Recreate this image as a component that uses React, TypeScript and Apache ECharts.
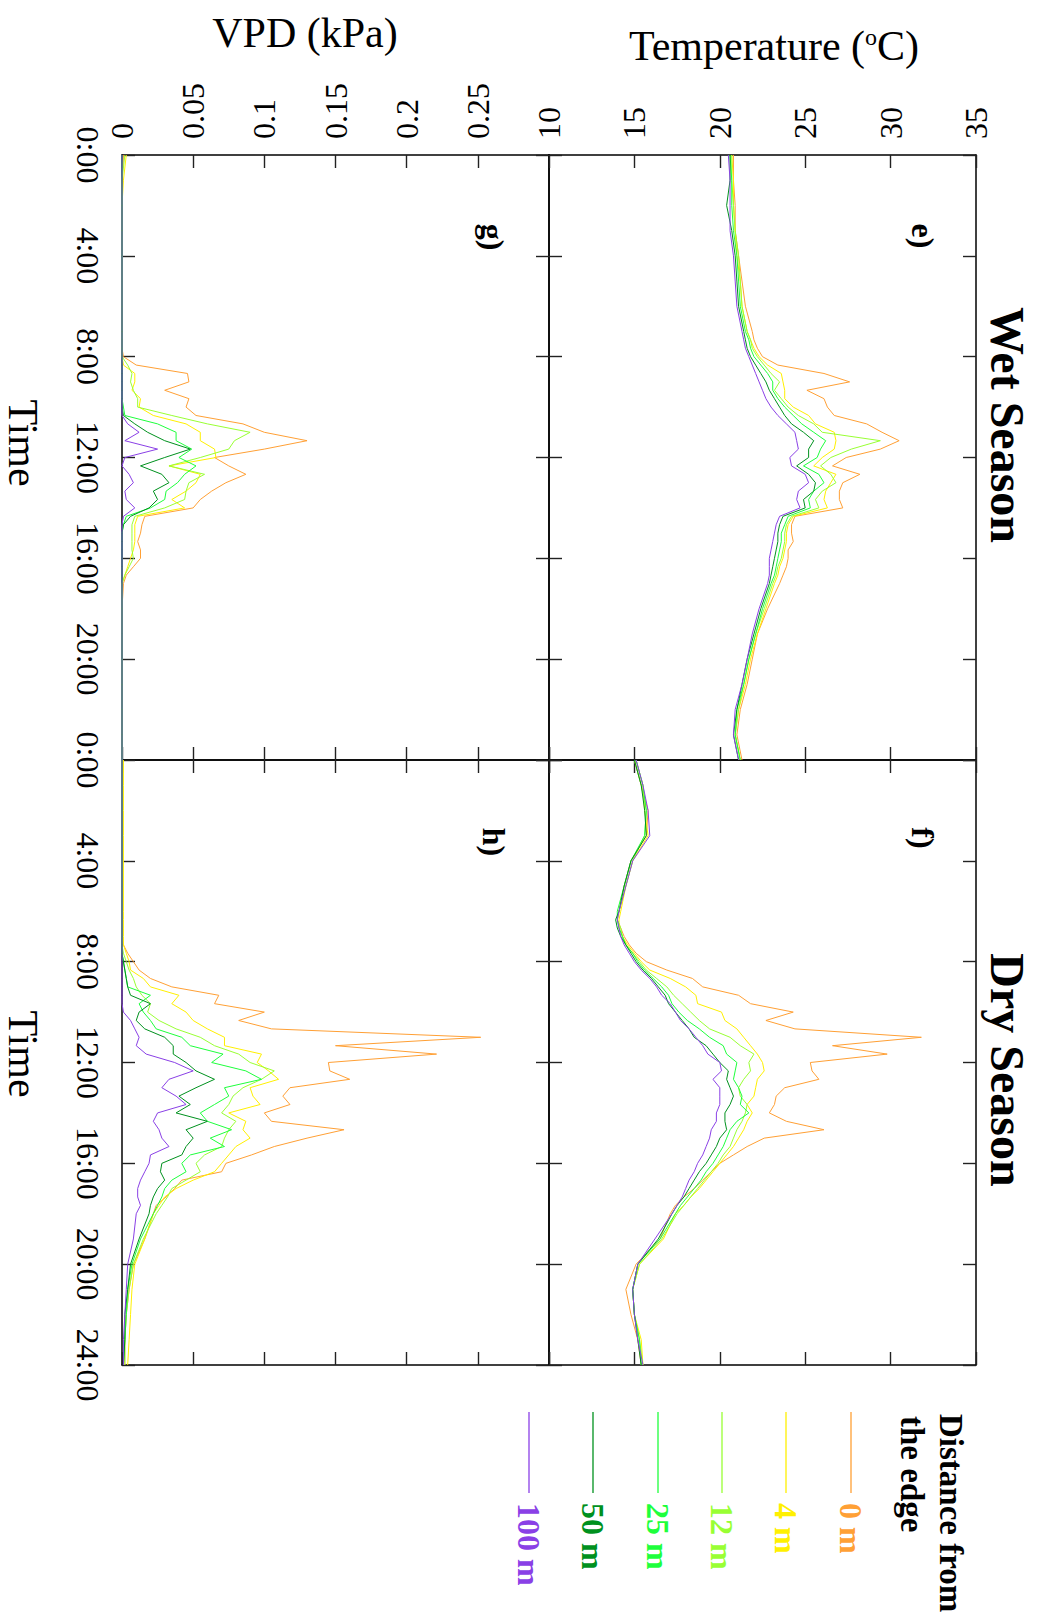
import React, { useEffect, useRef } from "react";
import * as echarts from "echarts";

const SERIF = "'Liberation Serif', 'Times New Roman', serif";

// Distance from the forest edge, legend order
const distanceLabels = ["0 m", "4 m", "12 m", "25 m", "50 m", "100 m"];
const distanceColors = ["#FFA035", "#FFF000", "#99FF33", "#1EFF3C", "#00911E", "#8A40E6"];

// Sampling times (minutes after midnight)
const wetMinutes = [0, 60, 120, 180, 240, 300, 360, 420, 440, 460, 480, 500, 520, 540, 560, 580, 600, 620, 640, 660, 680, 700, 720, 740, 760, 780, 800, 820, 840, 860, 880, 900, 920, 940, 960, 980, 1000, 1020, 1080, 1140, 1200, 1260, 1320, 1380, 1440];
const dryMinutes = [0, 60, 120, 180, 240, 300, 360, 380, 400, 420, 440, 460, 480, 500, 520, 540, 560, 580, 600, 620, 640, 660, 680, 700, 720, 740, 760, 780, 800, 820, 840, 860, 880, 900, 920, 940, 960, 980, 1000, 1020, 1040, 1060, 1080, 1140, 1200, 1260, 1320, 1380, 1440];

// Air temperature (°C), wet season
const tempWet0m = [20.8, 20.8, 20.9, 20.9, 21.1, 21.3, 21.5, 21.9, 22.0, 22.2, 22.5, 23.4, 26.1, 27.6, 25.1, 26.1, 26.3, 26.7, 28.6, 29.5, 30.5, 29.4, 27.4, 26.6, 28.2, 27.2, 27.0, 27.0, 27.2, 24.4, 24.2, 24.2, 24.3, 24.0, 24.0, 23.9, 23.7, 23.5, 22.8, 22.2, 21.9, 21.6, 21.2, 21.0, 21.3];
const tempWet4m = [20.7, 20.8, 20.8, 20.9, 21.0, 21.2, 21.3, 21.6, 21.8, 22.0, 22.3, 22.8, 23.6, 23.7, 23.8, 23.8, 24.3, 25.2, 25.6, 26.7, 26.8, 26.7, 26.0, 25.5, 26.8, 26.5, 26.2, 26.1, 26.3, 24.3, 24.0, 23.9, 23.9, 23.8, 23.7, 23.5, 23.4, 23.2, 22.7, 22.2, 21.8, 21.5, 21.1, 20.9, 21.2];
const tempWet12m = [20.7, 20.7, 20.8, 20.9, 21.1, 21.2, 21.3, 21.6, 21.8, 21.9, 22.2, 22.6, 23.0, 23.5, 23.2, 23.6, 24.0, 24.6, 25.5, 26.0, 29.4, 27.7, 26.5, 25.9, 26.5, 26.8, 26.0, 25.6, 25.8, 24.2, 23.9, 23.8, 23.8, 23.7, 23.6, 23.4, 23.3, 23.1, 22.6, 22.1, 21.7, 21.4, 21.1, 20.9, 21.2];
const tempWet25m = [20.6, 20.7, 20.7, 20.8, 21.0, 21.1, 21.2, 21.5, 21.7, 21.8, 22.0, 22.4, 22.8, 23.1, 23.1, 23.4, 23.8, 24.3, 24.8, 25.5, 26.2, 25.9, 25.7, 24.9, 25.8, 26.1, 25.5, 25.2, 25.3, 24.0, 23.8, 23.6, 23.6, 23.5, 23.4, 23.3, 23.2, 23.0, 22.5, 22.1, 21.7, 21.4, 21.0, 20.9, 21.2];
const tempWet50m = [20.6, 20.6, 20.4, 20.7, 20.9, 21.0, 21.1, 21.4, 21.5, 21.6, 21.8, 22.1, 22.4, 22.7, 22.9, 23.2, 23.5, 23.8, 24.2, 24.9, 25.5, 25.2, 25.2, 24.5, 25.2, 25.6, 25.5, 24.9, 25.0, 23.7, 23.5, 23.4, 23.4, 23.3, 23.2, 23.1, 23.0, 22.9, 22.4, 22.0, 21.6, 21.3, 21.0, 20.8, 21.1];
const tempWet100m = [20.5, 20.6, 20.6, 20.6, 20.8, 20.9, 21.0, 21.3, 21.4, 21.5, 21.7, 21.9, 22.1, 22.3, 22.5, 22.7, 23.0, 23.4, 23.9, 24.4, 24.5, 24.6, 24.1, 24.2, 25.0, 25.2, 24.6, 24.5, 24.7, 23.5, 23.3, 23.2, 23.1, 23.0, 22.9, 22.9, 22.9, 22.8, 22.3, 21.9, 21.6, 21.3, 20.9, 20.8, 21.1];

// Air temperature (°C), dry season
const tempDry0m = [15.0, 15.4, 15.8, 15.7, 14.8, 14.4, 14.1, 14.0, 14.2, 14.4, 14.7, 15.1, 15.7, 16.9, 18.4, 19.0, 21.1, 21.8, 24.3, 22.7, 24.4, 31.8, 26.6, 29.8, 25.3, 25.4, 25.8, 23.8, 23.3, 23.2, 22.9, 23.9, 26.1, 22.6, 21.6, 20.8, 20.0, 19.5, 19.0, 18.5, 17.9, 17.4, 17.1, 16.5, 15.1, 14.5, 14.8, 15.2, 15.4];
const tempDry4m = [15.1, 15.5, 15.6, 15.8, 14.9, 14.5, 14.2, 14.1, 14.1, 14.3, 14.6, 15.0, 15.4, 15.9, 17.1, 18.0, 18.6, 18.7, 20.1, 20.3, 21.0, 21.4, 21.8, 22.2, 22.5, 22.6, 22.2, 22.1, 22.0, 21.6, 21.9, 21.6, 21.4, 21.1, 20.8, 20.4, 20.0, 19.6, 19.2, 18.8, 18.3, 17.9, 17.4, 16.7, 15.3, 14.9, 15.0, 15.4, 15.5];
const tempDry12m = [15.0, 15.4, 15.7, 15.6, 14.9, 14.5, 14.1, 14.0, 14.2, 14.3, 14.5, 14.9, 15.3, 15.7, 16.3, 16.9, 17.3, 17.8, 18.3, 18.8, 19.4, 20.6, 21.2, 22.0, 21.7, 21.8, 21.4, 21.1, 21.2, 21.6, 21.5, 21.3, 21.0, 20.8, 20.6, 20.2, 19.9, 19.5, 19.1, 18.7, 18.3, 17.9, 17.5, 16.6, 15.3, 14.9, 15.0, 15.3, 15.5];
const tempDry25m = [15.1, 15.5, 15.7, 15.6, 14.8, 14.4, 14.0, 14.0, 14.1, 14.3, 14.5, 14.9, 15.2, 15.6, 16.1, 16.6, 17.0, 17.2, 17.6, 18.1, 18.8, 19.4, 20.2, 20.4, 21.0, 20.9, 20.8, 21.1, 21.3, 21.2, 21.7, 21.0, 20.6, 20.4, 20.2, 19.9, 19.6, 19.2, 18.9, 18.5, 18.1, 17.7, 17.4, 16.5, 15.2, 14.9, 15.0, 15.3, 15.4];
const tempDry50m = [15.0, 15.4, 15.6, 15.7, 14.8, 14.4, 14.1, 13.9, 14.0, 14.2, 14.5, 14.8, 15.1, 15.5, 16.0, 16.4, 16.8, 17.0, 17.4, 17.8, 18.2, 18.5, 19.2, 19.6, 20.0, 20.5, 20.4, 20.6, 20.8, 20.6, 20.3, 20.3, 20.4, 20.0, 19.8, 19.5, 19.2, 18.8, 18.5, 18.2, 17.9, 17.5, 17.2, 16.4, 15.2, 14.9, 15.0, 15.2, 15.4];
const tempDry100m = [15.1, 15.5, 15.8, 15.9, 14.9, 14.5, 14.1, 14.0, 14.1, 14.2, 14.4, 14.7, 15.0, 15.4, 15.9, 16.3, 16.6, 17.1, 17.4, 17.7, 18.2, 18.6, 19.0, 19.3, 20.0, 20.1, 19.6, 20.0, 20.0, 20.0, 19.8, 19.8, 19.5, 19.4, 19.2, 19.0, 18.7, 18.5, 18.2, 18.0, 17.8, 17.5, 17.2, 16.2, 15.2, 14.9, 15.0, 15.2, 15.5];

// Vapour pressure deficit (kPa), wet season
const vpdWet0m = [0.001, 0, 0, 0, 0, 0, 0, 0, 0, 0, 0.001, 0.010, 0.046, 0.047, 0.030, 0.047, 0.045, 0.052, 0.085, 0.100, 0.130, 0.100, 0.065, 0.075, 0.087, 0.073, 0.063, 0.055, 0.050, 0.016, 0.014, 0.013, 0.011, 0.013, 0.013, 0.008, 0.003, 0.001, 0, 0, 0, 0, 0, 0, 0];
const vpdWet4m = [0.003, 0.001, 0, 0, 0, 0, 0, 0, 0, 0, 0, 0.001, 0.009, 0.009, 0.007, 0.013, 0.012, 0.022, 0.045, 0.055, 0.055, 0.065, 0.066, 0.033, 0.055, 0.052, 0.045, 0.035, 0.044, 0.011, 0.009, 0.009, 0.009, 0.008, 0.006, 0.004, 0.002, 0, 0, 0, 0, 0, 0, 0, 0];
const vpdWet12m = [0.002, 0, 0, 0, 0, 0, 0, 0, 0, 0, 0, 0.004, 0.007, 0.006, 0.008, 0.011, 0.011, 0.035, 0.060, 0.090, 0.079, 0.075, 0.055, 0.033, 0.058, 0.047, 0.045, 0.044, 0.030, 0.009, 0.007, 0.007, 0.007, 0.007, 0.008, 0.005, 0.002, 0, 0, 0, 0, 0, 0, 0, 0];
const vpdWet25m = [0, 0, 0, 0, 0, 0, 0, 0, 0, 0, 0, 0, 0, 0, 0, 0, 0.001, 0.002, 0.025, 0.038, 0.038, 0.049, 0.040, 0.052, 0.044, 0.039, 0.031, 0.030, 0.020, 0.003, 0.001, 0, 0, 0, 0, 0, 0, 0, 0, 0, 0, 0, 0, 0, 0];
const vpdWet50m = [0, 0, 0, 0, 0, 0, 0, 0, 0, 0, 0, 0, 0, 0, 0, 0, 0, 0.001, 0.009, 0.018, 0.030, 0.048, 0.030, 0.013, 0.028, 0.033, 0.022, 0.025, 0.019, 0.006, 0.001, 0, 0, 0, 0, 0, 0, 0, 0, 0, 0, 0, 0, 0, 0];
const vpdWet100m = [0, 0, 0, 0, 0, 0, 0, 0, 0, 0, 0, 0, 0, 0, 0, 0, 0, 0, 0.004, 0.012, 0.002, 0.025, 0.002, 0, 0.005, 0.008, 0.002, 0.003, 0.009, 0.001, 0, 0, 0, 0, 0, 0, 0, 0, 0, 0, 0, 0, 0, 0, 0];

// Vapour pressure deficit (kPa), dry season
const vpdDry0m = [0, 0, 0, 0, 0, 0, 0, 0, 0, 0, 0.001, 0.004, 0.008, 0.012, 0.020, 0.035, 0.068, 0.065, 0.100, 0.082, 0.105, 0.252, 0.150, 0.221, 0.145, 0.146, 0.160, 0.118, 0.113, 0.118, 0.100, 0.105, 0.156, 0.130, 0.107, 0.091, 0.073, 0.070, 0.042, 0.037, 0.031, 0.024, 0.022, 0.016, 0.008, 0.005, 0.003, 0.002, 0.002];
const vpdDry4m = [0.001, 0.001, 0.001, 0.001, 0.001, 0.001, 0.001, 0.001, 0.001, 0.001, 0.001, 0.003, 0.005, 0.006, 0.015, 0.020, 0.040, 0.035, 0.045, 0.050, 0.060, 0.072, 0.072, 0.098, 0.095, 0.103, 0.110, 0.090, 0.092, 0.097, 0.075, 0.087, 0.085, 0.090, 0.080, 0.075, 0.070, 0.065, 0.050, 0.038, 0.030, 0.026, 0.022, 0.016, 0.009, 0.007, 0.006, 0.005, 0.004];
const vpdDry12m = [0, 0, 0, 0, 0, 0, 0, 0, 0, 0, 0, 0.001, 0.003, 0.005, 0.008, 0.010, 0.014, 0.020, 0.018, 0.026, 0.038, 0.055, 0.065, 0.082, 0.090, 0.107, 0.098, 0.085, 0.078, 0.075, 0.070, 0.080, 0.075, 0.072, 0.070, 0.058, 0.052, 0.055, 0.045, 0.035, 0.032, 0.028, 0.024, 0.015, 0.008, 0.005, 0.003, 0.002, 0.002];
const vpdDry25m = [0, 0, 0, 0, 0, 0, 0, 0, 0, 0, 0, 0, 0.001, 0.002, 0.003, 0.004, 0.020, 0.012, 0.015, 0.020, 0.024, 0.042, 0.048, 0.071, 0.063, 0.087, 0.098, 0.072, 0.075, 0.065, 0.055, 0.060, 0.077, 0.062, 0.072, 0.048, 0.042, 0.045, 0.035, 0.030, 0.028, 0.025, 0.022, 0.013, 0.007, 0.004, 0.003, 0.002, 0.001];
const vpdDry50m = [0, 0, 0, 0, 0, 0, 0, 0, 0, 0, 0, 0, 0.001, 0.002, 0.003, 0.004, 0.006, 0.020, 0.012, 0.010, 0.016, 0.030, 0.036, 0.036, 0.045, 0.052, 0.065, 0.052, 0.040, 0.048, 0.038, 0.060, 0.045, 0.050, 0.045, 0.042, 0.028, 0.027, 0.030, 0.025, 0.022, 0.020, 0.019, 0.012, 0.006, 0.004, 0.002, 0.002, 0.001];
const vpdDry100m = [0, 0, 0, 0, 0, 0, 0, 0, 0, 0, 0, 0, 0, 0, 0, 0, 0, 0, 0.001, 0.006, 0.009, 0.012, 0.010, 0.017, 0.037, 0.050, 0.033, 0.028, 0.038, 0.045, 0.025, 0.022, 0.026, 0.028, 0.033, 0.020, 0.019, 0.016, 0.013, 0.011, 0.011, 0.013, 0.010, 0.008, 0.004, 0.003, 0.002, 0.001, 0.001];

const tempWet = [tempWet0m, tempWet4m, tempWet12m, tempWet25m, tempWet50m, tempWet100m];
const tempDry = [tempDry0m, tempDry4m, tempDry12m, tempDry25m, tempDry50m, tempDry100m];
const vpdWet = [vpdWet0m, vpdWet4m, vpdWet12m, vpdWet25m, vpdWet50m, vpdWet100m];
const vpdDry = [vpdDry0m, vpdDry4m, vpdDry12m, vpdDry25m, vpdDry50m, vpdDry100m];

// Panel frames: e) wet temperature, f) dry temperature, g) wet VPD, h) dry VPD
const PANEL_W = 427;
const PANEL_H = 605;
const panels = [
  { left: 549, top: 155, kind: "temp", minutes: wetMinutes, values: tempWet },
  { left: 549, top: 760, kind: "temp", minutes: dryMinutes, values: tempDry },
  { left: 122, top: 155, kind: "vpd", minutes: wetMinutes, values: vpdWet },
  { left: 122, top: 760, kind: "vpd", minutes: dryMinutes, values: vpdDry },
];

const axisLine = { show: true, onZero: false, lineStyle: { color: "#000", width: 1.5 } };
const axisTick = { show: true, inside: true, length: 13, lineStyle: { color: "#222", width: 1.4 } };

function valueAxis(gridIndex: number, position: string, kind: string, labelled: boolean) {
  const isTemp = kind === "temp";
  return {
    type: "value",
    gridIndex,
    position,
    min: isTemp ? 10 : 0,
    max: isTemp ? 35 : 0.3,
    interval: isTemp ? 5 : 0.05,
    axisLine,
    axisTick,
    splitLine: { show: false },
    axisLabel: {
      show: labelled,
      rotate: -90,
      margin: 16,
      fontSize: 32,
      fontFamily: SERIF,
      color: "#000",
      showMinLabel: true,
      showMaxLabel: isTemp,
      formatter: (v: number) => String(Math.round(v * 100) / 100),
    },
  };
}

function timeAxis(gridIndex: number, position: string, labelled: boolean, showMax: boolean) {
  return {
    type: "value",
    gridIndex,
    position,
    inverse: true,
    min: 0,
    max: 1440,
    interval: 240,
    axisLine,
    axisTick,
    splitLine: { show: false },
    axisLabel: {
      show: labelled,
      rotate: -90,
      margin: 18,
      fontSize: 32,
      fontFamily: SERIF,
      color: "#000",
      showMinLabel: true,
      showMaxLabel: showMax,
      formatter: (v: number) => `${Math.round(v / 60)}:00`,
    },
  };
}

function vText(text: string, x: number, y: number, font: string, fill = "#000", align = "center") {
  return {
    type: "text",
    x,
    y,
    rotation: -Math.PI / 2,
    z: 10,
    style: { text, font, fill, align, verticalAlign: "middle" },
  };
}

function buildOption() {
  const grid = panels.map((p) => ({ left: p.left, top: p.top, width: PANEL_W, height: PANEL_H, containLabel: false }));

  const xAxis: any[] = [];
  const yAxis: any[] = [];
  panels.forEach((p, i) => {
    const topLabels = i === 0 || i === 2;
    xAxis.push(valueAxis(i, "top", p.kind, topLabels));
    xAxis.push(valueAxis(i, "bottom", p.kind, false));
    const leftLabels = i === 2 || i === 3;
    yAxis.push(timeAxis(i, "left", leftLabels, i === 3));
    yAxis.push(timeAxis(i, "right", false, false));
  });

  const series: any[] = [];
  panels.forEach((p, i) => {
    p.values.forEach((vals, k) => {
      series.push({
        type: "line",
        name: distanceLabels[k],
        xAxisIndex: 2 * i,
        yAxisIndex: 2 * i,
        data: p.minutes.map((m, j) => [vals[j], m]),
        showSymbol: false,
        symbol: "none",
        clip: true,
        silent: true,
        lineStyle: { color: distanceColors[k], width: 1 },
        itemStyle: { color: distanceColors[k] },
        emphasis: { disabled: true },
        z: 2,
      });
    });
  });

  const legendX = [851, 786, 722, 658, 593, 529];
  const graphic: any[] = [
    {
      type: "text",
      x: 305,
      y: 33,
      z: 10,
      style: { text: "VPD (kPa)", font: `42px ${SERIF}`, fill: "#000", align: "center", verticalAlign: "middle" },
    },
    {
      type: "text",
      x: 774,
      y: 46,
      z: 10,
      style: {
        text: "{t|Temperature (}{s|o}{t|C)}",
        align: "center",
        verticalAlign: "middle",
        rich: {
          t: { fontSize: 42, fontFamily: SERIF, fill: "#000" },
          s: { fontSize: 24, fontFamily: SERIF, fill: "#000", verticalAlign: "top" },
        },
      },
    },
    vText("Time", 23, 443, `42px ${SERIF}`),
    vText("Time", 23, 1054, `42px ${SERIF}`),
    vText("Wet Season", 1007, 425, `bold 48px ${SERIF}`),
    vText("Dry Season", 1007, 1070, `bold 48px ${SERIF}`),
    vText("e)", 923, 236, `bold 32px ${SERIF}`),
    vText("f)", 923, 838, `bold 32px ${SERIF}`),
    vText("g)", 493, 237, `bold 32px ${SERIF}`),
    vText("h)", 494, 842, `bold 32px ${SERIF}`),
    vText("Distance from", 951, 1414, `bold 33px ${SERIF}`, "#000", "left"),
    vText("the edge", 912, 1416, `bold 33px ${SERIF}`, "#000", "left"),
  ];
  distanceLabels.forEach((label, k) => {
    graphic.push({
      type: "line",
      z: 10,
      shape: { x1: legendX[k], y1: 1412, x2: legendX[k], y2: 1493 },
      style: { stroke: distanceColors[k], lineWidth: 1.3 },
    });
    graphic.push(vText(label, legendX[k], 1503, `bold 32px ${SERIF}`, distanceColors[k], "left"));
  });

  return {
    animation: false,
    backgroundColor: "#fff",
    grid,
    xAxis,
    yAxis,
    series,
    graphic,
  };
}

export default function App() {
  const ref = useRef<HTMLDivElement>(null);
  useEffect(() => {
    const chart = echarts.init(ref.current as HTMLDivElement, null, { renderer: "svg" });
    chart.setOption(buildOption() as any);
    return () => chart.dispose();
  }, []);
  return (
    <div
      ref={ref}
      style={{ position: "absolute", left: 0, top: 0, width: 1041, height: 1624, background: "#fff" }}
    />
  );
}
